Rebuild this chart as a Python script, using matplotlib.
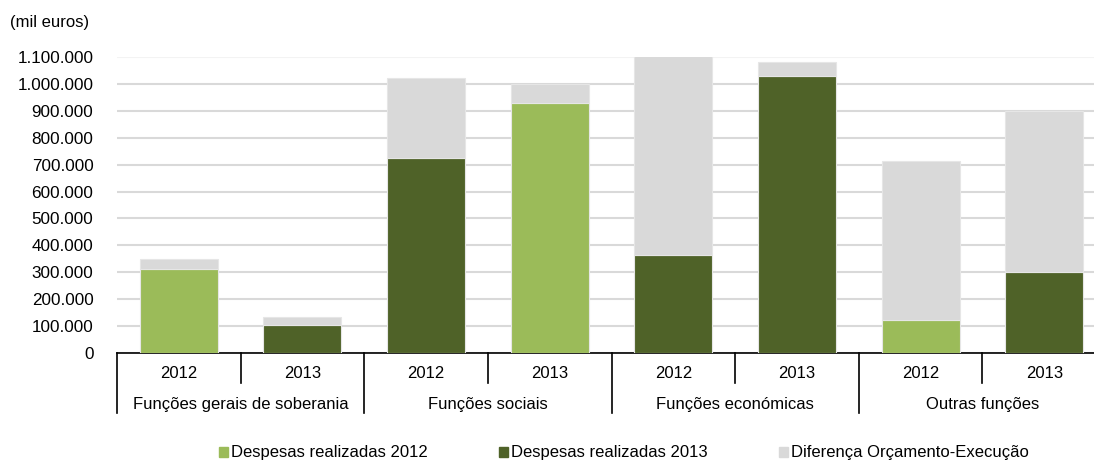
import matplotlib
matplotlib.use('Agg')
import matplotlib.pyplot as plt
from matplotlib.patches import Patch
from matplotlib.ticker import FuncFormatter
import numpy as np

plt.rcParams['font.family'] = ['Liberation Sans', 'DejaVu Sans']

# data (mil euros)
groups = ['Funções gerais de soberania', 'Funções sociais',
          'Funções económicas', 'Outras funções']
years = ['2012', '2013'] * 4
spent = [313000, 103000, 724000, 929000, 366000, 1028000, 121000, 302000]
diff = [36000, 30000, 299000, 72000, 738000, 52000, 592000, 598000]
# series shown by each bar's colour, as drawn in the original
series = ['2012', '2013', '2013', '2012', '2013', '2013', '2012', '2013']

c2012 = '#9BBB59'
c2013 = '#4F6228'
cdiff = '#D9D9D9'
colors = {'2012': c2012, '2013': c2013}

fig = plt.figure(figsize=(10.94, 4.63), dpi=100)
W, H = 1094, 463
ax = fig.add_axes([117 / W, 1 - 353 / H, (1106 - 117) / W, (353 - 57) / H])

x = np.arange(len(spent))
ax.bar(x, spent, width=0.63, color=[colors[s] for s in series],
       edgecolor='#E6E6E6', linewidth=0.8, zorder=3)
ax.bar(x, diff, bottom=spent, width=0.63, color=cdiff,
       edgecolor='#E6E6E6', linewidth=0.8, zorder=3)

ax.set_xlim(-0.5, len(spent) - 0.5)
ax.set_ylim(0, 1100000)
ax.set_yticks(np.arange(0, 1100001, 100000))
ax.yaxis.set_major_formatter(
    FuncFormatter(lambda v, p: f'{int(v):,}'.replace(',', '.')))
ax.tick_params(axis='y', length=0, labelsize=12.3, pad=17)
ax.set_xticks([])
ax.grid(axis='y', color='#D9D9D9', linewidth=1.5, zorder=0)
# top gridline is barely visible in the original
ax.get_ygridlines()[-1].set_color('#F3F3F3')
for s in ['top', 'right', 'left']:
    ax.spines[s].set_visible(False)
ax.spines['bottom'].set_linewidth(1.2)

# category table below the axis
tr = ax.get_xaxis_transform()
year_len = 30 / 296
group_len = 60 / 296
for i in range(len(spent) + 1):
    xx = i - 0.5
    ln = group_len if i % 2 == 0 else year_len
    ax.plot([xx, xx], [0, -ln], transform=tr, color='black',
            linewidth=1.2, clip_on=False)
for i, y in enumerate(years):
    ax.text(i, -21 / 296, y, transform=tr, ha='center', va='center',
            fontsize=12)
for g, name in enumerate(groups):
    ax.text(2 * g + 0.5, -52 / 296, name, transform=tr, ha='center',
            va='center', fontsize=12)

fig.text(10 / W, 1 - 23 / H, '(mil euros)', ha='left', va='center',
         fontsize=12)

handles = [Patch(color=c2012), Patch(color=c2013), Patch(color=cdiff)]
labels = ['Despesas realizadas 2012', 'Despesas realizadas 2013',
          'Diferença Orçamento-Execução']
fig.legend(handles, labels, loc='center', ncol=3, frameon=False,
           bbox_to_anchor=(624 / W, 1 - 453 / H), fontsize=12,
           handlelength=0.55, handleheight=0.55, handletextpad=0.15,
           columnspacing=4.3)

fig.savefig('out.png', dpi=100)
